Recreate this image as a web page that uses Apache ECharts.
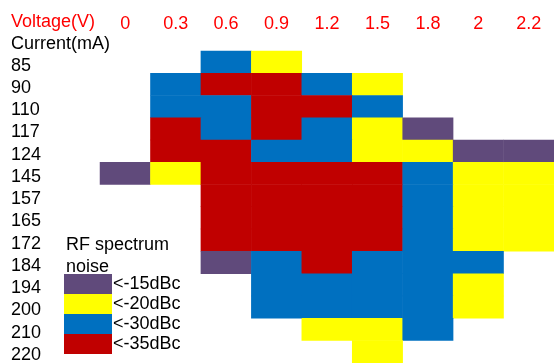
<!DOCTYPE html>
<html>
<head>
<meta charset="utf-8">
<script src="https://cdn.jsdelivr.net/npm/echarts@6/dist/echarts.min.js"></script>
<style>html,body{margin:0;padding:0;background:#fff}#c{width:554px;height:364px}</style>
</head>
<body>
<div id="c"></div>
<script>
const voltages = ['0', '0.3', '0.6', '0.9', '1.2', '1.5', '1.8', '2', '2.2'];
const currents = ['85', '90', '110', '117', '124', '145', '157', '165', '172', '184', '194', '200', '210', '220'];
const levels = [-15, -20, -30, -35];
const levelLabels = ['<-15dBc', '<-20dBc', '<-30dBc', '<-35dBc'];
const levelColors = ['#604A7B', '#FFFF00', '#0070C0', '#C00000'];
const _ = null;
// RF spectrum noise level (dBc) for each current row, one value per voltage column
const noiseByCurrent = [
  [_, _, -30, -20, _, _, _, _, _],
  [_, -30, -35, -35, -30, -20, _, _, _],
  [_, -30, -30, -35, -35, -30, _, _, _],
  [_, -35, -30, -35, -30, -20, -15, _, _],
  [_, -35, -35, -30, -30, -20, -20, -15, -15],
  [-15, -20, -35, -35, -35, -35, -30, -20, -20],
  [_, _, -35, -35, -35, -35, -30, -20, -20],
  [_, _, -35, -35, -35, -35, -30, -20, -20],
  [_, _, -35, -35, -35, -35, -30, -20, -20],
  [_, _, -15, -30, -35, -30, -30, -30, _],
  [_, _, _, -30, -30, -30, -30, -20, _],
  [_, _, _, -30, -30, -30, -30, -20, _],
  [_, _, _, _, -20, -20, -30, _, _],
  [_, _, _, _, _, -20, _, _, _]
];

const data = [];
noiseByCurrent.forEach((row, yi) => {
  row.forEach((v, xi) => { if (v !== null) data.push([xi, yi, v]); });
});

const FONT = 'Liberation Sans, Arial, sans-serif';
const FS = 18;
const chart = echarts.init(document.getElementById('c'), null, { renderer: 'canvas' });
chart.setOption({
  animation: false,
  backgroundColor: '#fff',
  title: [
    { text: 'Voltage(V)', left: 11, top: 13, padding: 0, textStyle: { color: '#FF0000', fontSize: FS, fontWeight: 'normal', fontFamily: FONT } },
    { text: 'Current(mA)', left: 11, top: 35, padding: 0, textStyle: { color: '#000', fontSize: FS, fontWeight: 'normal', fontFamily: FONT } },
    { text: 'RF spectrum\nnoise', left: 66, top: 234, padding: 0, textStyle: { color: '#000', fontSize: FS, fontWeight: 'normal', fontFamily: FONT, lineHeight: 22 } }
  ],
  grid: { left: 100, right: 0, top: 51, bottom: 0, containLabel: false },
  xAxis: {
    type: 'category', data: voltages, position: 'top',
    axisLine: { show: false }, axisTick: { show: false }, splitLine: { show: false },
    axisLabel: { color: '#FF0000', fontSize: FS, fontFamily: FONT, margin: 18, interval: 0 }
  },
  yAxis: {
    type: 'category', data: currents, inverse: true,
    axisLine: { show: false }, axisTick: { show: false }, splitLine: { show: false },
    axisLabel: { color: '#000', fontSize: FS, fontFamily: FONT, align: 'left', verticalAlign: 'top', lineHeight: 7, margin: 89, interval: 0 }
  },
  visualMap: {
    type: 'piecewise', orient: 'vertical', inverse: false,
    left: 64, top: 274, itemWidth: 48, itemHeight: 20, itemGap: 0, textGap: 1,
    itemSymbol: 'rect', showLabel: true, selectedMode: false, padding: 0,
    textStyle: { color: '#000', fontSize: FS, fontFamily: FONT },
    pieces: levels.map((v, i) => ({ value: v, label: levelLabels[i], color: levelColors[i] }))
  },
  series: [{
    type: 'heatmap', data: data,
    itemStyle: { borderWidth: 0 },
    emphasis: { disabled: true }
  }]
});
</script>
</body>
</html>
